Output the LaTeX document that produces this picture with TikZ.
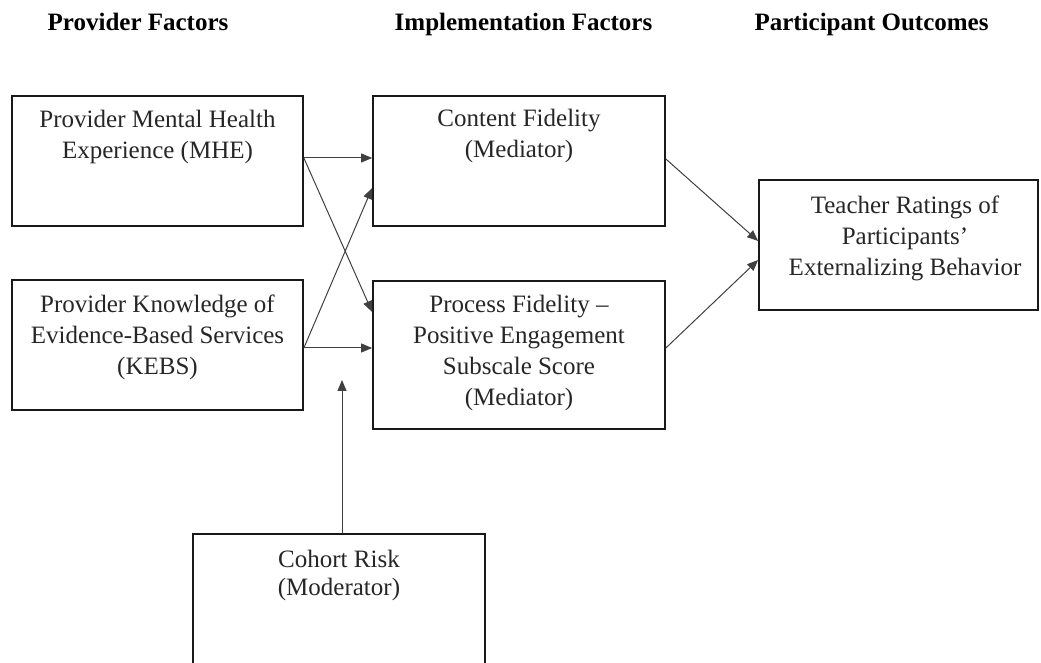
\documentclass[tikz,border=0pt]{standalone}
\usepackage{fontspec}
\setmainfont{Liberation Serif}
\usetikzlibrary{arrows.meta,calc}
\tikzset{
  box/.style={draw=black!90, line width=1.7pt, rectangle, inner sep=0pt},
  txt/.style={align=center, inner sep=0pt, anchor=base, text=black!85, font=\fontsize{25}{31}\selectfont},
  hdr/.style={inner sep=0pt, anchor=base, text=black, font=\fontsize{25}{30}\selectfont\bfseries},
  conn/.style={draw=black!75, line width=1pt, -{Triangle[length=11pt,width=9pt]}}
}
\begin{document}
\begin{tikzpicture}[x=1pt,y=1pt]
\useasboundingbox (0,0) rectangle (1041,663);
% headers
\node[hdr] (h1) at (138,632) {Provider Factors};
\node[hdr] (h2) at (523.5,632) {Implementation Factors};
\node[hdr] (h3) at (871.5,632) {Participant Outcomes};
% boxes
\node[box, minimum width=291pt, minimum height=130pt] (mhe) at (157.5,502) {};
\node[box, minimum width=291pt, minimum height=130pt] (kebs) at (157.5,318) {};
\node[box, minimum width=292pt, minimum height=130pt] (content) at (519,502) {};
\node[box, minimum width=292pt, minimum height=148pt] (process) at (519,308) {};
\node[box, minimum width=279pt, minimum height=130pt] (teacher) at (898.5,418) {};
\node[box, minimum width=292pt, minimum height=170pt] (cohort) at (339,44) {};
% texts (base anchor = baseline of last line)
\node[txt] (tmhe) at ([yshift=-63pt]mhe.north) {Provider Mental Health\\Experience (MHE)};
\node[txt] (tkebs) at ([yshift=-95pt]kebs.north) {Provider Knowledge of\\Evidence-Based Services\\(KEBS)};
\node[txt] (tcontent) at ([yshift=-62pt]content.north) {Content Fidelity\\(Mediator)};
\node[txt] (tprocess) at ([yshift=-125pt]process.north) {Process Fidelity --\\Positive Engagement\\Subscale Score\\(Mediator)};
\node[txt] (tteacher) at ([xshift=6.5pt,yshift=-96pt]teacher.north) {Teacher Ratings of\\Participants'\\Externalizing Behavior};
\node[txt, font=\fontsize{25}{28}\selectfont] (tcohort) at ([yshift=-62pt]cohort.north) {Cohort Risk\\(Moderator)};
% connectors
\coordinate (mod) at (342,283);
\draw[conn] ([yshift=3pt]mhe.east) -- ([yshift=3pt]content.west);
\draw[conn] ([yshift=3pt]mhe.east) -- ([yshift=43pt]process.west);
\draw[conn] ([yshift=-3pt]kebs.east) -- ([yshift=-27pt]content.west);
\draw[conn] ([yshift=-3pt]kebs.east) -- ([yshift=7pt]process.west);
\draw[conn] ([yshift=2pt]content.east) -- ([yshift=4pt]teacher.west);
\draw[conn] ([yshift=7pt]process.east) -- ([yshift=-15pt]teacher.west);
\draw[conn] ([xshift=3pt]cohort.north) -- (mod);
\end{tikzpicture}
\end{document}
